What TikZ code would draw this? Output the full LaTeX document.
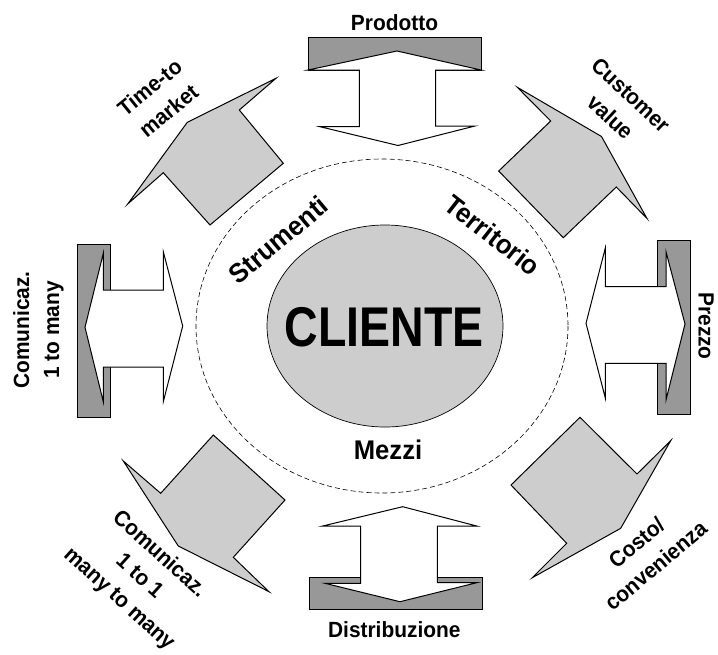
\documentclass[tikz,border=0pt]{standalone}
\usepackage{fontspec}
\setmainfont{Liberation Sans}
\newfontfamily\labelfont{Liberation Sans}[FakeStretch=0.95]
\newfontfamily\clientfont{Liberation Sans}[FakeStretch=0.83]
\definecolor{barfill}{HTML}{989898}
\definecolor{shapefill}{HTML}{CDCDCD}
\tikzset{
  barbox/.style={fill=barfill, draw=black, line width=0.8pt},
  twoway/.style={fill=white, draw=black, line width=1pt, line join=miter},
  diagshape/.style={fill=shapefill, draw=black, line width=1pt, line join=miter},
  outerlabel/.style={font=\labelfont\bfseries\fontsize{22}{30}\selectfont, align=center, inner sep=0pt},
  innerlabel/.style={font=\labelfont\bfseries\fontsize{27}{30}\selectfont, inner sep=0pt},
}
\begin{document}
\begin{tikzpicture}[x=1pt,y=-1pt]
\useasboundingbox (0,0) rectangle (718,654);

% dashed ring and central ellipse
\draw[dashed, dash pattern=on 5pt off 3pt, line width=0.6pt] (382,326) ellipse [x radius=186, y radius=167];
\draw[fill=shapefill, line width=0.7pt] (385,326) ellipse [x radius=118, y radius=101];

% top: Prodotto
\draw[barbox] (308,37.7) rectangle (481,70);
\draw[twoway] (308,70) -- (397,51) -- (481,70) -- (435.7,70) -- (435.7,126) -- (475,126)
  -- (398,145.5) -- (320,126.7) -- (359.3,126.7) -- (359.3,70) -- cycle;

% bottom: Distribuzione
\draw[barbox] (309,577.3) rectangle (482.7,609.3);
\draw[twoway] (360.7,526) -- (360.7,583.3) -- (325,583.3) -- (400,601.7) -- (476.7,582.7)
  -- (437.3,582.7) -- (437.3,526) -- (476.7,526) -- (402.7,506.7) -- (322.7,526) -- cycle;

% left: Comunicaz. 1 to many
\draw[barbox] (77.3,244) rectangle (110.7,417.3);
\draw[twoway] (163.3,290) -- (103.3,290) -- (103.3,253.3) -- (85,327.3) -- (103.3,401.7)
  -- (103.3,367) -- (163.3,367) -- (163.3,401.7) -- (182.7,326) -- (163.3,251.7) -- cycle;

% right: Prezzo
\draw[barbox] (657.3,240) rectangle (690,414);
\draw[twoway] (605.3,286.7) -- (666,286.7) -- (666,251.7) -- (685,324) -- (666,400)
  -- (666,363.3) -- (605.3,363.3) -- (605.3,398) -- (586,323.3) -- (605.3,248) -- cycle;

% diagonal shapes
\draw[diagshape] (127.7,204) -- (187.3,122.3) -- (276,78.3) -- (239.3,110) -- (283.3,163.3)
  -- (210,225) -- (163.3,172.7) -- cycle;
\draw[diagshape] (517.3,87.3) -- (601.5,136.5) -- (647,218.5) -- (616.3,187) -- (563.3,237.7)
  -- (498.7,171) -- (550.7,121) -- cycle;
\draw[diagshape] (123.3,461) -- (160.7,493.3) -- (213.3,435) -- (285,500) -- (233.3,557.3)
  -- (269,591.7) -- (178.3,546) -- cycle;
\draw[diagshape] (580,417.3) -- (637,474) -- (670.7,440.7) -- (620.7,528.3) -- (532.3,577.7)
  -- (566.7,543.3) -- (511,485) -- cycle;

% labels
\node[outerlabel] (prodotto) at (394.5,22.5) {Prodotto};
\node[outerlabel] (distribuzione) at (394.3,629.7) {Distribuzione};
\node[outerlabel, rotate=39] (timeto) at (159,99) {Time-to\\market};
\node[outerlabel, rotate=-43] (customer) at (620.5,106) {Customer\\value};
\node[outerlabel, rotate=90] (unomany) at (38.5,330) {Comunicaz.\\1 to many};
\node[outerlabel, rotate=-90] (prezzo) at (706,326) {Prezzo};
\node[outerlabel, rotate=-42] (unouno) at (139,577) {Comunicaz.\\1 to 1\\many to many};
\node[outerlabel, rotate=40] (costo) at (646,554) {Costo/\\convenienza};

\node[innerlabel, rotate=40] (strumenti) at (278,240) {Strumenti};
\node[innerlabel, rotate=-38] (territorio) at (493,235) {Territorio};
\node[innerlabel] (mezzi) at (388,450) {Mezzi};
\node[font=\clientfont\bfseries\fontsize{56}{60}\selectfont, inner sep=0pt] (cliente) at (384,327) {CLIENTE};
\end{tikzpicture}
\end{document}
